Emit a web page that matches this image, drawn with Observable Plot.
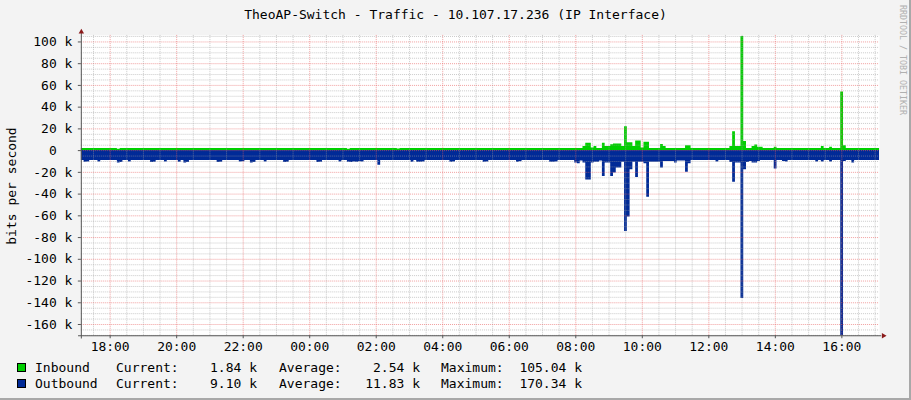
<!DOCTYPE html>
<html>
<head>
<meta charset="utf-8">
<script src="https://cdn.jsdelivr.net/npm/d3@7"></script>
<script src="https://cdn.jsdelivr.net/npm/@observablehq/plot@0.6"></script>
<style>
  html, body { margin: 0; padding: 0; background: #f3f3f3; }
  #wrap { position: relative; width: 911px; height: 400px; overflow: hidden; background: #f3f3f3;
          font-family: "DejaVu Sans Mono", monospace; color: #000; box-sizing: border-box;
          border-right: 2px solid #a8a8a8; border-bottom: 2px solid #a8a8a8; }
  #wrap svg.plot { position: absolute; left: 0; top: 0; display: block; }
  .t { position: absolute; font-size: 13px; line-height: 16px; white-space: pre; }
  .sw { position: absolute; width: 7px; height: 7px; border: 1px solid #000; }
  #title { left: 0; width: 911px; text-align: center; top: 7px; }
  #overlay { position: absolute; left: 0; top: 0; pointer-events: none; }
</style>
</head>
<body>
<div id="wrap"></div>
<script>
// ---- data (values in k bits per second), 5-minute steps starting 17:08 ----
const startMinute = 17 * 60 + 8;
const stepMinutes = 5;

const inbound = [
  1.9,1.9,1.9,1.9,1.9,1.9,1.9,1.9,1.9,1.9,1.9,1.9,1.9,1.3,1.9,1.9,1.9,1.9,1.9,1.9,1.9,1.9,1.9,1.9,
  1.9,1.9,1.9,1.9,1.9,1.9,1.9,1.9,1.9,1.9,1.9,1.9,1.9,1.9,1.9,1.9,1.9,1.9,1.9,1.9,1.9,1.9,1.9,1.9,
  1.9,1.9,1.9,1.9,1.9,1.9,1.9,1.9,1.9,1.9,1.9,1.9,1.9,1.9,1.9,1.9,1.9,1.9,1.9,1.9,1.9,1.9,1.9,1.9,
  1.9,1.9,1.9,1.9,1.9,1.9,1.9,1.9,1.9,1.9,1.9,1.9,1.9,1.9,1.9,1.9,1.9,1.9,1.9,1.9,1.9,1.9,1.9,1.9,
  1.3,1.9,1.9,1.9,1.9,1.9,1.9,1.9,1.9,1.9,1.9,1.9,1.9,1.9,1.9,1.9,1.9,1.9,1.5,1.9,1.9,1.9,1.9,1.9,
  1.9,1.9,1.9,1.9,1.9,1.9,1.9,1.9,1.9,1.9,1.9,1.9,1.9,1.9,1.9,1.9,1.9,1.9,1.9,1.9,1.9,1.9,1.9,1.9,
  1.9,1.9,1.9,1.9,1.9,1.9,1.9,1.9,1.9,1.9,1.9,1.9,1.9,1.9,1.9,1.9,1.9,1.9,1.9,1.9,1.9,1.9,1.9,1.9,
  1.9,1.9,1.9,1.9,1.9,1.9,1.9,1.9,1.9,1.9,1.9,1.9,1.9,3.7,6.8,6.8,2.5,3.7,2.0,2.0,6.8,3.7,3.7,5.5,
  6.0,6.2,6.0,3.7,22.0,7.3,7.3,3.7,8.9,8.9,2.5,7.7,7.7,2.0,2.0,2.0,2.0,5.6,3.7,2.0,2.0,2.0,2.0,2.0,
  2.0,2.0,4.6,4.6,1.9,1.9,1.9,1.9,1.9,1.9,1.9,1.9,1.9,1.9,1.9,1.9,1.9,1.9,3.7,17.4,3.7,3.7,105.04,8.3,
  2.0,2.0,3.7,5.2,3.0,3.0,1.9,1.9,1.9,1.9,3.0,1.9,1.9,1.9,1.9,1.9,1.9,1.9,1.9,1.9,1.9,1.9,1.9,1.9,
  1.9,1.9,1.9,3.7,1.9,1.9,3.0,1.9,1.9,1.9,54.0,4.6,1.9,1.9,1.9,1.9,1.9,1.9,1.9,1.9,1.9,1.9,1.9,1.84
];

const outbound = [
  9,10.7,10.5,9,9,9,10.5,9,9,9,9,9,9,11.5,11,9,9,10.5,9,9,9,9,9,9,
  9,11,10.8,9,9,9,10.5,9,9,9,9,10.7,9,11.3,11,9,9,9,9,9,9,9,9,9,
  9,11,10.7,9,9,9,9,9,9,10.5,10.3,9,9,11.3,11,9,9,9,10.5,9,9,9,9,9,
  9,11,10.8,9,9,9,9,9,9,9,9,9,9,11,10.8,9,9,9,9,9,9,10.5,9,9,
  10.8,11,10.5,10.6,10.3,10.5,9,9,9,9,9,13.5,9,9,9,9,9,9,9,9,9,9,9,10.7,
  9,10.7,10.7,10.5,9,9,9,9,9,9,9,9,9,10.7,10.5,9,9,9,9,9,9,9,9,9,
  9,10.7,10.5,9,9,9,9,9,9,9,9,9,9,10.7,10.3,9,9,9,9,9,9,9,9,9,
  9,10.7,10.7,10.5,9,9,9,9,9,9,11.5,12,9.5,11.5,27,27,11.5,10.7,10.7,9.5,23.8,11.5,11.5,23.8,
  20.7,16,16,10.7,74.5,61,17.7,10.7,24.7,10.7,10.7,12,43,10.7,10.7,10.7,10.7,16,10,10,10,10,11.5,9.5,
  9.5,9.5,20,12,9,9,9,9,9,9,9,9,9,10.5,9,9,9,9,11,29,11.5,11.5,136,17.7,
  11,10,11.5,11.5,10,9,9,9,9,9,17,9,9,10,10.5,9,9,9,9,9,9,9,9,9,
  9,10.5,9,10.5,9,9,10.5,9,9,9,170.34,10,9,9,11.5,9,9,9,9,9,9,9,9,9.1
];

const yTicks = [100, 80, 60, 40, 20, 0, -20, -40, -60, -80, -100, -120, -140, -160];
const xTickMinutes = [1080, 1200, 1320, 1440, 1560, 1680, 1800, 1920, 2040, 2160, 2280, 2400];
const xTickLabels = ["18:00","20:00","22:00","00:00","02:00","04:00","06:00","08:00","10:00","12:00","14:00","16:00"];

const seriesNames = ["Inbound", "Outbound"];
const seriesColors = ["#00CF00", "#002A97"];
const legendCurrent = ["1.84 k", "9.10 k"];
const legendAverage = ["2.54 k", "11.83 k"];
const legendMaximum = ["105.04 k", "170.34 k"];

const titleText = "TheoAP-Switch - Traffic - 10.107.17.236 (IP Interface)";
const yLabel = "bits per second";
const watermark = "RRDTOOL / TOBI OETIKER";

// ---- build table ----
const rows = inbound.map((v, i) => ({t: startMinute + i * stepMinutes, inb: v, out: -outbound[i]}));
rows.push({t: startMinute + inbound.length * stepMinutes, inb: inbound[inbound.length - 1], out: -outbound[outbound.length - 1]});

const endMinute = startMinute + 1440;
const yMin = -170.34, yMax = 106;

const minorX = d3.range(1050, endMinute, 30).filter(m => m % 120 !== 0);
const minorY = d3.range(-170, yMax, 5).filter(v => v % 20 !== 0);

const plot = Plot.plot({
  width: 911,
  height: 400,
  marginLeft: 81,
  marginRight: 30,
  marginTop: 35,
  marginBottom: 64,
  style: {background: "transparent", fontFamily: "'DejaVu Sans Mono', monospace", fontSize: "13px", color: "#000", overflow: "visible"},
  x: {domain: [startMinute, endMinute], axis: null},
  y: {domain: [yMin, yMax], axis: null},
  marks: [
    Plot.frame({fill: "#ffffff", stroke: "none"}),
    Plot.areaY(rows, {x: "t", y1: 0, y2: "inb", fill: seriesColors[0], curve: "step-after"}),
    Plot.areaY(rows, {x: "t", y1: 0, y2: "out", fill: seriesColors[1], curve: "step-after"}),
    Plot.gridX(minorX, {stroke: "#a0a0a0", strokeOpacity: 0.55, strokeDasharray: "1,1"}),
    Plot.gridY(minorY, {stroke: "#a0a0a0", strokeOpacity: 0.55, strokeDasharray: "1,1"}),
    Plot.gridX(xTickMinutes, {stroke: "#e86060", strokeOpacity: 0.6, strokeDasharray: "1,1"}),
    Plot.gridY(yTicks, {stroke: "#e86060", strokeOpacity: 0.6, strokeDasharray: "1,1"}),
    Plot.axisY(yTicks, {
      tickSize: 3, tickPadding: 6, stroke: "#555",
      tickFormat: v => v === 0 ? "0\u00a0\u00a0" : `${v} k`,
      fontSize: 13, fontFamily: "'DejaVu Sans Mono', monospace", label: null
    }),
    Plot.axisX(xTickMinutes, {
      tickSize: 3, tickPadding: 3, stroke: "#555",
      tickFormat: (d, i) => xTickLabels[i],
      fontSize: 13, fontFamily: "'DejaVu Sans Mono', monospace", label: null
    }),
    Plot.ruleX([startMinute], {y1: yMin - 3, y2: yMax + 2, stroke: "#555"}),
    Plot.ruleY([yMin], {x1: startMinute - 5, x2: endMinute + 4, stroke: "#555"}),
    Plot.dot([{x: startMinute, y: yMax + 3.3}], {x: "x", y: "y", symbol: "triangle2", r: 2.6, fill: "#8b1a1a", stroke: "none"}),
    Plot.dot([{x: endMinute + 7, y: yMin}], {x: "x", y: "y", symbol: "triangle2", r: 2.6, rotate: 90, fill: "#8b1a1a", stroke: "none"})
  ]
});
plot.classList.add("plot");
const wrap = document.getElementById("wrap");
wrap.appendChild(plot);

// ---- title ----
const title = document.createElement("div");
title.id = "title"; title.className = "t"; title.textContent = titleText;
wrap.appendChild(title);

// ---- rotated texts ----
const ns = "http://www.w3.org/2000/svg";
const ov = document.createElementNS(ns, "svg");
ov.setAttribute("id", "overlay"); ov.setAttribute("width", 911); ov.setAttribute("height", 400);
const yl = document.createElementNS(ns, "text");
yl.setAttribute("transform", "translate(11,186) rotate(-90)");
yl.setAttribute("text-anchor", "middle"); yl.setAttribute("dominant-baseline", "central");
yl.setAttribute("font-family", "DejaVu Sans Mono, monospace"); yl.setAttribute("font-size", "13");
yl.textContent = yLabel;
ov.appendChild(yl);
const wm = document.createElementNS(ns, "text");
wm.setAttribute("transform", "translate(902.5,5) rotate(90)");
wm.setAttribute("text-anchor", "start"); wm.setAttribute("dominant-baseline", "central");
wm.setAttribute("font-family", "DejaVu Sans Mono, monospace"); wm.setAttribute("font-size", "8");
wm.setAttribute("fill", "#b0b0b0");
wm.setAttribute("textLength", "110"); wm.setAttribute("lengthAdjust", "spacingAndGlyphs");
wm.textContent = watermark;
ov.appendChild(wm);
wrap.appendChild(ov);

// ---- legend ----
function addText(txt, left, top, right) {
  const d = document.createElement("div");
  d.className = "t"; d.textContent = txt; d.style.top = top + "px";
  if (right != null) { d.style.right = (911 - right) + "px"; d.style.textAlign = "right"; }
  else d.style.left = left + "px";
  wrap.appendChild(d);
}
seriesNames.forEach((name, i) => {
  const top = 360 + i * 16;
  const sw = document.createElement("div");
  sw.className = "sw"; sw.style.left = "17px"; sw.style.top = (top + 3) + "px";
  sw.style.background = seriesColors[i];
  wrap.appendChild(sw);
  addText(name, 35, top);
  addText("Current:", 116, top);
  addText(legendCurrent[i], null, top, 259);
  addText("Average:", 279, top);
  addText(legendAverage[i], null, top, 422);
  addText("Maximum:", 441, top);
  addText(legendMaximum[i], null, top, 584);
});
</script>
</body>
</html>
